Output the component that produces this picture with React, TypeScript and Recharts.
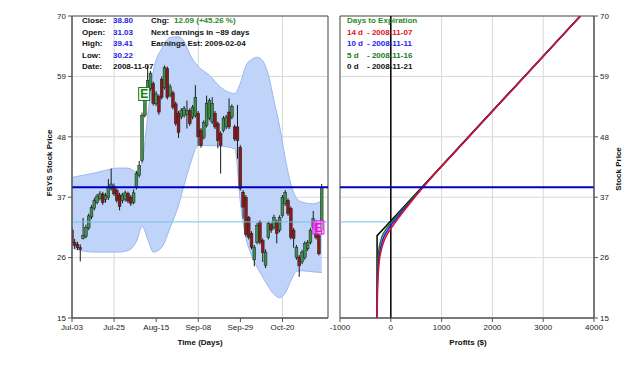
import React from "react";
import {
  ComposedChart,
  LineChart,
  Line,
  Bar,
  Area,
  XAxis,
  YAxis,
  CartesianGrid,
  ReferenceLine,
  ReferenceArea,
  ReferenceDot,
} from "recharts";

const FONT = '"Liberation Sans", Arial, Helvetica, sans-serif';

// daily OHLC, trading days from Jul-03 to Nov-07 2008
const opens = [
  31.0, 28.8, 28.4, 27.8, 29.5, 29.8, 31.4, 33.4, 35.0, 36.0, 36.8, 37.6, 36.6, 36.9, 38.6,
  39.0, 38.2, 37.4, 36.4, 36.6, 37.7, 37.0, 36.0, 38.8, 41.0, 43.7, 51.9, 55.2, 56.8, 57.7,
  54.0, 55.3, 58.5, 57.0, 60.4, 55.6, 56.0, 54.0, 52.3, 51.6, 51.9, 52.0, 52.8, 51.6, 51.9,
  52.3, 49.2, 47.9, 50.1, 51.4, 50.7, 52.3, 50.4, 48.6, 49.2, 49.8, 52.5, 51.6, 49.8, 49.8,
  46.1, 37.9, 37.0, 33.3, 30.4, 25.6, 28.8, 32.5, 29.1, 24.6, 29.7, 32.0, 31.5, 32.5, 31.0,
  33.7, 35.8, 36.4, 35.0, 31.0, 26.0, 26.1, 25.2, 26.0, 27.6, 28.8, 31.5, 32.4, 30.0, 31.03,
];
const highs = [
  31.5, 29.4, 28.9, 28.4, 33.2, 32.0, 34.0, 35.6, 36.9, 37.6, 38.1, 38.0, 37.8, 40.3, 42.2,
  39.5, 38.6, 37.8, 37.8, 38.2, 38.0, 37.4, 38.4, 41.8, 43.6, 52.4, 57.0, 61.0, 60.0, 58.1,
  56.3, 55.7, 59.0, 61.0, 60.8, 57.6, 56.4, 54.4, 52.7, 53.2, 53.6, 54.6, 53.2, 53.8, 57.4,
  52.7, 49.6, 51.0, 55.5, 55.0, 55.2, 52.7, 50.8, 49.0, 51.8, 52.0, 55.0, 53.9, 50.2, 53.8,
  46.5, 38.3, 37.4, 33.6, 30.8, 28.3, 32.3, 32.8, 29.5, 27.5, 32.6, 32.4, 33.8, 32.9, 33.7,
  37.4, 38.3, 36.8, 35.3, 31.4, 28.3, 26.5, 27.4, 29.0, 29.2, 31.4, 34.5, 32.8, 30.4, 39.41,
];
const lows = [
  28.0, 27.6, 27.4, 25.3, 29.3, 29.5, 31.0, 33.0, 34.6, 35.7, 36.4, 35.6, 36.0, 36.5, 38.2,
  37.2, 36.0, 34.6, 35.9, 36.2, 35.9, 35.4, 35.7, 38.4, 40.6, 43.3, 51.5, 54.8, 56.4, 53.7,
  53.6, 52.0, 54.8, 56.6, 54.8, 55.2, 53.0, 50.0, 47.8, 51.2, 51.5, 49.5, 50.0, 51.2, 51.5,
  46.4, 46.0, 47.5, 49.7, 51.0, 50.3, 49.4, 45.9, 41.3, 48.8, 49.4, 49.4, 51.2, 47.2, 44.0,
  38.2, 33.1, 29.8, 29.3, 27.5, 24.4, 28.4, 28.4, 25.2, 24.1, 29.3, 30.5, 31.1, 28.6, 30.6,
  33.3, 35.4, 33.6, 29.3, 27.8, 25.6, 22.5, 24.8, 25.6, 27.2, 28.4, 31.1, 29.3, 26.4, 30.22,
];
const closes = [
  28.8, 28.2, 27.8, 27.5, 30.0, 31.5, 33.6, 35.1, 36.4, 37.2, 37.6, 36.0, 37.3, 38.9, 39.4,
  37.6, 36.4, 35.3, 37.4, 37.8, 36.3, 35.9, 37.8, 41.3, 42.8, 51.9, 56.5, 58.3, 59.6, 54.1,
  55.8, 52.5, 55.2, 60.6, 55.2, 57.1, 53.4, 50.4, 48.8, 52.8, 53.2, 52.8, 50.4, 53.4, 55.2,
  48.0, 46.4, 50.6, 54.1, 54.6, 54.1, 49.8, 47.3, 46.4, 51.4, 51.6, 49.8, 53.5, 47.6, 47.3,
  38.6, 35.2, 30.2, 29.7, 27.9, 27.9, 31.9, 28.8, 26.9, 27.0, 32.2, 31.0, 33.3, 30.4, 33.3,
  37.0, 37.9, 34.0, 29.7, 29.5, 27.9, 24.5, 27.0, 28.6, 28.8, 31.0, 33.1, 29.7, 26.7, 38.8,
];

const tickDays = [0, 15, 30, 45, 60, 75];
const tickLabels = ["Jul-03", "Jul-25", "Aug-15", "Sep-08", "Sep-29", "Oct-20"];
const priceTicks = [15, 26, 37, 48, 59, 70];

// shaded projection band, read at some of the days
const bandDays = [0, 4, 8, 12, 16, 20, 23, 25, 27, 29, 32, 35, 38, 40, 42, 45, 49, 53, 58, 60, 62, 64, 66, 68, 70, 72, 74, 76, 78, 80, 82, 86, 89];
const bandLow = [27.7, 27.2, 27.0, 27.0, 27.0, 27.3, 29.0, 31.7, 29.3, 27.0, 27.9, 31.5, 35.6, 39.3, 42.8, 46.4, 46.4, 46.3, 45.8, 36.0, 29.5, 26.4, 24.2, 22.4, 20.7, 19.3, 18.7, 19.6, 21.8, 23.5, 23.6, 23.4, 23.3];
const bandHigh = [40.6, 41.0, 41.4, 41.9, 42.3, 42.3, 41.6, 43.5, 52.0, 60.0, 64.1, 66.1, 66.2, 65.3, 63.0, 60.8, 59.2, 57.0, 55.9, 57.8, 61.0, 62.1, 62.5, 61.8, 59.2, 54.5, 49.8, 44.0, 39.3, 36.8, 36.1, 35.8, 36.4];

// profit ($) by stock price for each time to expiration
const prices = [15, 18, 21, 24, 26, 28, 29, 30, 31, 32, 33, 34, 36, 38, 40, 45, 50, 60, 70];
const profit14 = [-268, -265, -258, -240, -218, -170, -135, -85, -20, 55, 135, 215, 385, 560, 745, 1240, 1740, 2735, 3735];
const profit10 = [-269, -267, -263, -250, -232, -195, -165, -125, -60, 15, 100, 185, 370, 555, 742, 1237, 1735, 2733, 3733];
const profit5 = [-270, -270, -268, -262, -250, -225, -200, -165, -105, -25, 65, 155, 350, 545, 738, 1235, 1733, 2731, 3731];
const profit0 = [-270, -270, -270, -270, -270, -270, -270, -270, -170, -70, 30, 130, 330, 530, 730, 1230, 1730, 2730, 3730];
const profitTicks = [-1000, 0, 1000, 2000, 3000, 4000];

const LAST_CLOSE = 38.8;
const BREAKEVEN = 32.5;
const X_MAX = 91.2;

const UP = "#3f8f4f";
const DOWN = "#8b1a1a";

const bandByDay: Record<number, [number, number]> = {};
bandDays.forEach((d, i) => {
  bandByDay[d] = [bandLow[i], bandHigh[i]];
});

const candleData = opens.map((o, i) => ({
  day: i,
  open: o,
  high: highs[i],
  low: lows[i],
  close: closes[i],
  range: [lows[i], highs[i]],
  band: bandByDay[i],
}));

const profitData = prices.map((p, i) => ({
  price: p,
  d14: profit14[i],
  d10: profit10[i],
  d5: profit5[i],
  d0: profit0[i],
}));

const tickStyle = { fontSize: 8, fill: "#222", fontFamily: FONT };

const Candle = (props: any) => {
  const { x, y, width, height, payload } = props;
  if (!payload || x == null) return null;
  const { open, close, high, low } = payload;
  const top = Math.min(y, y + height);
  const h = Math.abs(height);
  const cx = x + width / 2;
  const span = high - low || 1;
  const py = (v: number) => top + ((high - v) / span) * h;
  const b1 = py(Math.max(open, close));
  const b2 = py(Math.min(open, close));
  return (
    <g>
      <line x1={cx} x2={cx} y1={top} y2={top + h} stroke="#1a1a1a" strokeWidth={1} />
      <rect
        x={cx - 1.4}
        y={b1}
        width={2.8}
        height={Math.max(b2 - b1, 0.8)}
        fill={close >= open ? UP : DOWN}
        stroke="#1a1a1a"
        strokeWidth={0.5}
      />
    </g>
  );
};

const EarningsMark = ({ cx, cy, color, bg }: any) => (
  <g>
    <rect x={cx - 5.5} y={cy - 6.5} width={11} height={13} fill={bg} stroke={color} strokeWidth={1} />
    <text x={cx} y={cy + 4.5} textAnchor="middle" fontSize={12} fontWeight="bold" fill={color} fontFamily={FONT}>
      E
    </text>
  </g>
);

const Txt = ({ x, y, color = "#111", children }: any) => (
  <div
    style={{
      position: "absolute",
      left: x,
      top: y - 6,
      fontSize: 8,
      lineHeight: "12px",
      fontWeight: "bold",
      color,
      whiteSpace: "nowrap",
    }}
  >
    {children}
  </div>
);

const Title = ({ x, y, rotate, children }: any) => (
  <div
    style={{
      position: "absolute",
      left: x,
      top: y,
      fontSize: 8,
      fontWeight: "bold",
      color: "#111",
      whiteSpace: "nowrap",
      transform: `translate(-50%, -50%)${rotate ? " rotate(-90deg)" : ""}`,
    }}
  >
    {children}
  </div>
);

const rows = [21, 32.6, 44.2, 55.8, 67.4];

export default function App() {
  return (
    <div
      style={{
        position: "absolute",
        left: 0,
        top: 0,
        width: 642,
        height: 372,
        background: "#fff",
        fontFamily: FONT,
        overflow: "hidden",
      }}
    >
      {/* price history */}
      <div style={{ position: "absolute", left: 0, top: 0 }}>
        <ComposedChart width={340} height={372} data={candleData} margin={{ top: 16, right: 12, bottom: 24, left: 0 }}>
          <CartesianGrid stroke="#d8d8d8" />
          <XAxis
            dataKey="day"
            type="number"
            domain={[0, X_MAX]}
            ticks={tickDays}
            tickFormatter={(v) => tickLabels[tickDays.indexOf(v)] ?? ""}
            tick={tickStyle}
            tickSize={4}
            height={30}
            stroke="#555"
            allowDataOverflow
          />
          <YAxis
            type="number"
            domain={[15, 70]}
            ticks={priceTicks}
            tick={tickStyle}
            tickSize={4}
            width={72}
            stroke="#555"
            allowDataOverflow
          />
          <Area
            dataKey="band"
            type="monotone"
            fill="#c0d4fa"
            fillOpacity={1}
            stroke="#9bb7ef"
            strokeWidth={1}
            connectNulls
            dot={false}
            activeDot={false}
            isAnimationActive={false}
          />
          <ReferenceLine y={BREAKEVEN} stroke="#74c4e4" strokeWidth={1} />
          <Bar dataKey="range" barSize={3} shape={Candle} isAnimationActive={false} />
          <ReferenceLine y={LAST_CLOSE} stroke="#0000c0" strokeWidth={2} />
          <ReferenceDot
            x={25.7}
            y={55.8}
            r={6}
            shape={(p: any) => <EarningsMark cx={p.cx} cy={p.cy} color="#1f7a1f" bg="#eef6ee" />}
          />
          <ReferenceDot
            x={87.8}
            y={31.5}
            r={6}
            shape={(p: any) => <EarningsMark cx={p.cx} cy={p.cy} color="#ff00ff" bg="rgba(255,190,255,0.5)" />}
          />
          <ReferenceArea x1={0} x2={X_MAX} y1={15} y2={70} fill="none" fillOpacity={0} stroke="#555" strokeWidth={1} />
        </ComposedChart>
      </div>

      {/* profit profile */}
      <div style={{ position: "absolute", left: 330, top: 0 }}>
        <LineChart
          layout="vertical"
          width={312}
          height={372}
          data={profitData}
          margin={{ top: 16, right: 0, bottom: 24, left: 10 }}
        >
          <CartesianGrid stroke="#d8d8d8" />
          <XAxis
            type="number"
            domain={[-1000, 4000]}
            ticks={profitTicks}
            tick={tickStyle}
            tickSize={4}
            height={30}
            stroke="#555"
            allowDataOverflow
          />
          <YAxis
            dataKey="price"
            type="number"
            orientation="right"
            reversed
            domain={[15, 70]}
            ticks={priceTicks}
            tick={tickStyle}
            tickSize={4}
            width={48}
            stroke="#555"
            allowDataOverflow
          />
          <ReferenceLine
            segment={[
              { x: -1000, y: BREAKEVEN },
              { x: 0, y: BREAKEVEN },
            ]}
            stroke="#74c4e4"
            strokeWidth={1}
          />
          <ReferenceLine x={0} stroke="#000" strokeWidth={1.5} />
          <Line dataKey="d0" type="linear" stroke="#000" strokeWidth={1.5} dot={false} isAnimationActive={false} />
          <Line dataKey="d5" type="monotone" stroke="#1a7a1a" strokeWidth={1.5} dot={false} isAnimationActive={false} />
          <Line dataKey="d10" type="monotone" stroke="#1a1aff" strokeWidth={1.5} dot={false} isAnimationActive={false} />
          <Line dataKey="d14" type="monotone" stroke="#e01020" strokeWidth={1.5} dot={false} isAnimationActive={false} />
          <ReferenceLine y={LAST_CLOSE} stroke="#0000c0" strokeWidth={2} />
          <ReferenceArea x1={-1000} x2={4000} y1={15} y2={70} fill="none" fillOpacity={0} stroke="#555" strokeWidth={1} />
        </LineChart>
      </div>

      {/* quote box */}
      <Txt x={82} y={rows[0]}>Close:</Txt>
      <Txt x={113} y={rows[0]} color="#2323e6">38.80</Txt>
      <Txt x={82} y={rows[1]}>Open:</Txt>
      <Txt x={113} y={rows[1]} color="#2323e6">31.03</Txt>
      <Txt x={82} y={rows[2]}>High:</Txt>
      <Txt x={113} y={rows[2]} color="#2323e6">39.41</Txt>
      <Txt x={82} y={rows[3]}>Low:</Txt>
      <Txt x={113} y={rows[3]} color="#2323e6">30.22</Txt>
      <Txt x={82} y={rows[4]}>Date:</Txt>
      <Txt x={113} y={rows[4]}>2008-11-07</Txt>
      <Txt x={151} y={rows[0]}>Chg:</Txt>
      <Txt x={174} y={rows[0]} color="#2a8a2a">12.09 (+45.26 %)</Txt>
      <Txt x={151} y={rows[1]}>Next earnings in ~89 days</Txt>
      <Txt x={151} y={rows[2]}>Earnings Est: 2009-02-04</Txt>

      {/* expiration legend */}
      <Txt x={347} y={rows[0]} color="#2a8a2a">Days to Expiration</Txt>
      <Txt x={347} y={rows[1]} color="#e01020">14 d</Txt>
      <Txt x={367} y={rows[1]} color="#e01020">- 2008-11-07</Txt>
      <Txt x={347} y={rows[2]} color="#1a1aff">10 d</Txt>
      <Txt x={367} y={rows[2]} color="#1a1aff">- 2008-11-11</Txt>
      <Txt x={347} y={rows[3]} color="#1a7a1a">5 d</Txt>
      <Txt x={367} y={rows[3]} color="#1a7a1a">- 2008-11-16</Txt>
      <Txt x={347} y={rows[4]}>0 d</Txt>
      <Txt x={367} y={rows[4]}>- 2008-11-21</Txt>

      <Title x={200} y={342}>Time (Days)</Title>
      <Title x={468} y={342}>Profits ($)</Title>
      <Title x={48.5} y={163} rotate>FSYS Stock Price</Title>
      <Title x={618} y={169} rotate>Stock Price</Title>
    </div>
  );
}
